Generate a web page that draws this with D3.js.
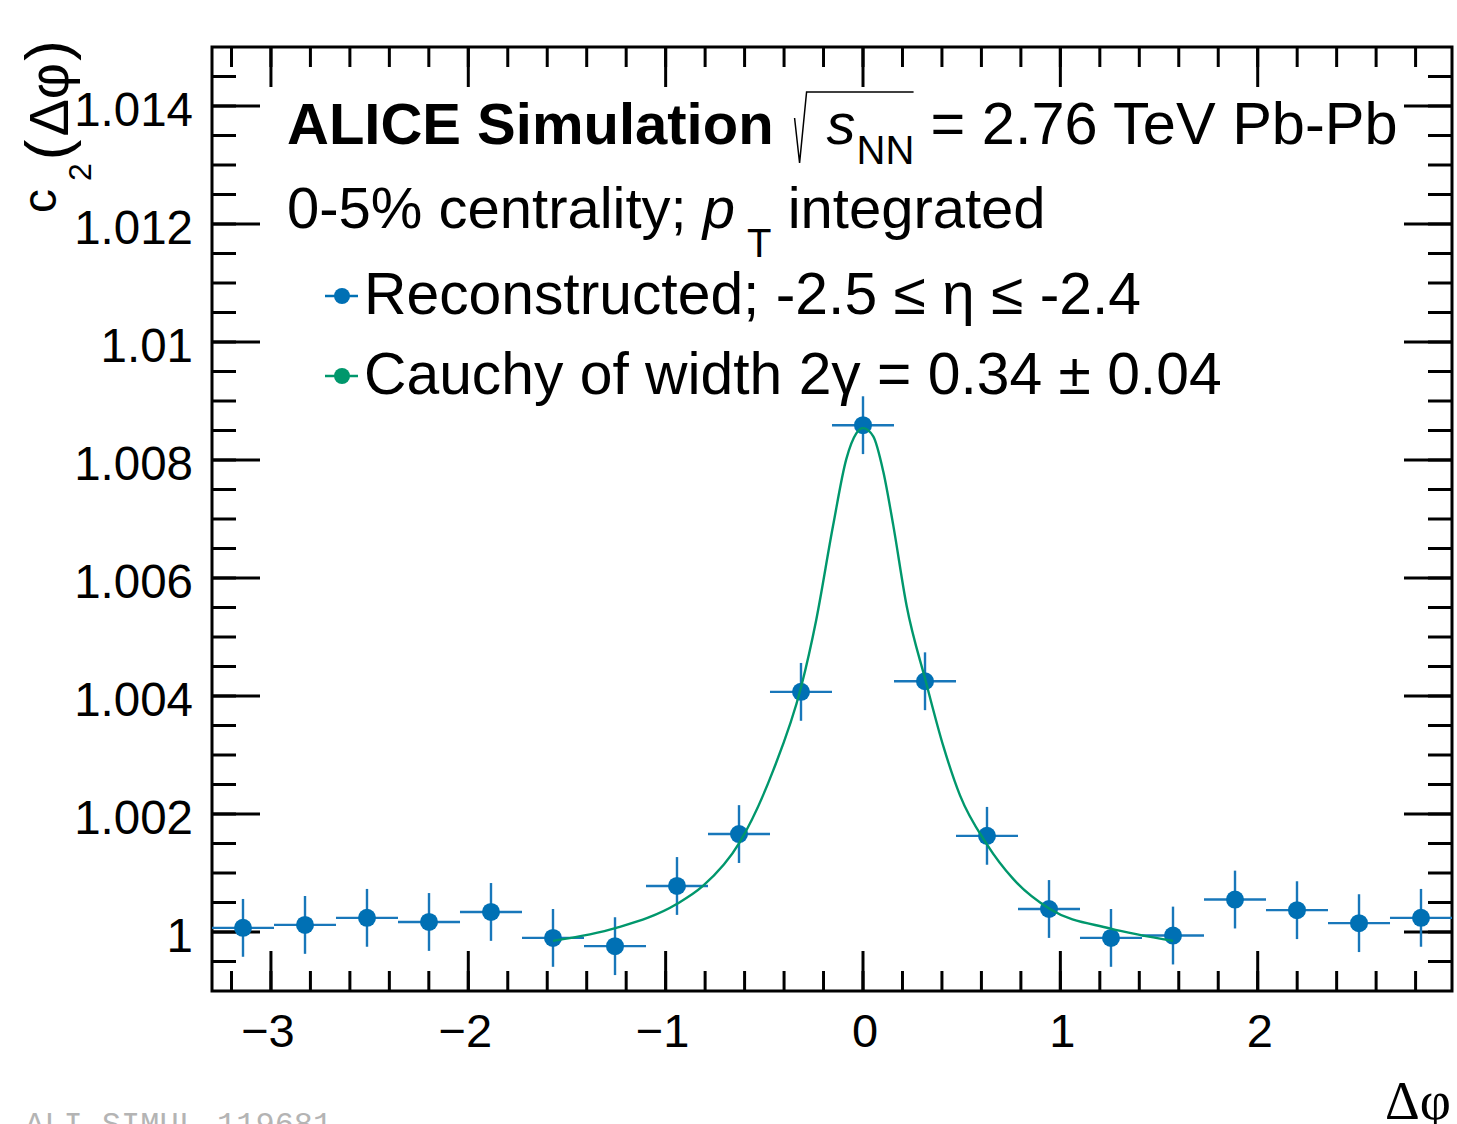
<!DOCTYPE html>
<html>

<head>
  <title>c2 vs delta phi</title>
  <script src="https://d3js.org/d3.v7.min.js"></script>
  <style>
    body {
      margin: 0;
      background: #ffffff;
    }

    svg text {
      font-family: "Liberation Sans", Arial, Helvetica, sans-serif;
    }
  </style>
</head>

<body>
  <svg id="chart"></svg>
  <script>
    // bin centres in delta phi
    const dphi = [-3.1416, -2.8274, -2.5133, -2.1991, -1.8850, -1.5708, -1.2566, -0.9425, -0.6283, -0.3142,
      0.0000, 0.3142, 0.6283, 0.9425, 1.2566, 1.5708, 1.8850, 2.1991, 2.5133, 2.8274]
    const c2 = [1.00007, 1.00012, 1.00024, 1.00017, 1.00034, 0.99990, 0.99976, 1.00078, 1.00166, 1.00407,
      1.00859, 1.00425, 1.00163, 1.00039, 0.99990, 0.99994, 1.00055, 1.00037, 1.00015, 1.00024]
    const c2Err = [0.00049, 0.00049, 0.00049, 0.00049, 0.00049, 0.00049, 0.00049, 0.00049, 0.00049, 0.00049,
      0.00049, 0.00049, 0.00049, 0.00049, 0.00049, 0.00049, 0.00049, 0.00049, 0.00049, 0.00049]
    const binHalfWidth = 0.1571

    // cauchy fit curve
    const fitX = [-1.5708, -1.250, -0.946, -0.811, -0.625, -0.456, -0.313, -0.237, -0.152, -0.085, -0.034, 0.000,
      0.052, 0.103, 0.153, 0.221, 0.318, 0.407, 0.491, 0.627, 0.761, 0.947, 1.251, 1.5708]
    const fitY = [0.99985, 1.00007, 1.00047, 1.00078, 1.00152, 1.00273, 1.00416, 1.00529, 1.00688, 1.00801, 1.00845, 1.00854,
      1.00840, 1.00780, 1.00690, 1.00553, 1.00425, 1.00315, 1.00232, 1.00149, 1.00090, 1.00039, 1.00006, 0.99985]

    const xTicks = [-3, -2, -1, 0, 1, 2]
    const xTickLabels = ["\u22123", "\u22122", "\u22121", "0", "1", "2"]
    const yTicks = [1.000, 1.002, 1.004, 1.006, 1.008, 1.010, 1.012, 1.014]
    const yTickLabels = ["1", "1.002", "1.004", "1.006", "1.008", "1.01", "1.012", "1.014"]

    const blue = "#0070b4"
    const barBlue = "#1877ba"
    const green = "#00976c"

    svgwidth = 1457
    svgheight = 1124
    svg = d3.select("#chart")
      .attr("width", svgwidth)
      .attr("height", svgheight)

    var frame = { left: 212, right: 1452, top: 47, bottom: 991 }

    var x = d3.scaleLinear()
      .domain([-1.05 * Math.PI, 0.95 * Math.PI])
      .range([frame.left, frame.right])

    var y = d3.scaleLinear()
      .domain([0.999, 1.015])
      .range([frame.bottom, frame.top])

    // ticks (ROOT style: on all four sides, pointing inwards)
    var xMinor = d3.range(-32, 30, 2).map(d => d / 10).filter(d => x(d) > frame.left && x(d) < frame.right)
    var yMinor = d3.range(9990, 10151, 5).map(d => d / 10000).filter(d => y(d) < frame.bottom && y(d) > frame.top)

    ticks = svg.append("g")
      .attr("stroke", "black")
      .attr("stroke-width", 3)

    ticks.selectAll(".xminb").data(xMinor).enter().append("line")
      .attr("x1", d => x(d)).attr("x2", d => x(d))
      .attr("y1", frame.bottom).attr("y2", frame.bottom - 20)
    ticks.selectAll(".xmint").data(xMinor).enter().append("line")
      .attr("x1", d => x(d)).attr("x2", d => x(d))
      .attr("y1", frame.top).attr("y2", frame.top + 20)
    ticks.selectAll(".xmajb").data(xTicks).enter().append("line")
      .attr("x1", d => x(d)).attr("x2", d => x(d))
      .attr("y1", frame.bottom).attr("y2", frame.bottom - 40)
    ticks.selectAll(".xmajt").data(xTicks).enter().append("line")
      .attr("x1", d => x(d)).attr("x2", d => x(d))
      .attr("y1", frame.top).attr("y2", frame.top + 40)

    ticks.selectAll(".yminl").data(yMinor).enter().append("line")
      .attr("x1", frame.left).attr("x2", frame.left + 24)
      .attr("y1", d => y(d)).attr("y2", d => y(d))
    ticks.selectAll(".yminr").data(yMinor).enter().append("line")
      .attr("x1", frame.right).attr("x2", frame.right - 24)
      .attr("y1", d => y(d)).attr("y2", d => y(d))
    ticks.selectAll(".ymajl").data(yTicks).enter().append("line")
      .attr("x1", frame.left).attr("x2", frame.left + 48)
      .attr("y1", d => y(d)).attr("y2", d => y(d))
    ticks.selectAll(".ymajr").data(yTicks).enter().append("line")
      .attr("x1", frame.right).attr("x2", frame.right - 48)
      .attr("y1", d => y(d)).attr("y2", d => y(d))

    svg.append("rect")
      .attr("x", frame.left)
      .attr("y", frame.top)
      .attr("width", frame.right - frame.left)
      .attr("height", frame.bottom - frame.top)
      .attr("fill", "none")
      .attr("stroke", "black")
      .attr("stroke-width", 3)

    // tick labels
    svg.selectAll(".xlab").data(xTicks).enter().append("text")
      .attr("x", d => x(d) + (d < 0 ? -3 : 2))
      .attr("y", frame.bottom + 56)
      .attr("text-anchor", "middle")
      .attr("font-size", 47)
      .text((d, i) => xTickLabels[i])

    svg.selectAll(".ylab").data(yTicks).enter().append("text")
      .attr("x", 193)
      .attr("y", d => y(d))
      .attr("dy", "0.43em")
      .attr("text-anchor", "end")
      .attr("font-size", 47.5)
      .text((d, i) => yTickLabels[i])

    // axis titles
    svg.append("text")
      .attr("x", 1451)
      .attr("y", 1119)
      .attr("text-anchor", "end")
      .attr("font-size", 54)
      .style("font-family", "'Liberation Serif', 'Times New Roman', serif")
      .text("\u0394\u03c6")

    ytitle = svg.append("text")
      .attr("transform", "translate(68,213) rotate(-90)")
      .attr("text-anchor", "start")
    ytitle.append("tspan").attr("font-size", 48).attr("dy", -12).text("c")
    ytitle.append("tspan").attr("font-size", 32).attr("dy", 35).attr("dx", 8).text("2")
    ytitle.append("tspan").attr("font-size", 62).attr("dy", -23).attr("dx", 3).text("(")
    ytitle.append("tspan").attr("font-size", 56).attr("dx", 3).text("\u0394\u03c6")
    ytitle.append("tspan").attr("font-size", 62).attr("dx", 2).text(")")

    // data: error bars, markers, fit
    var points = dphi.map((d, i) => ({ x: d, y: c2[i], e: c2Err[i] }))

    bars = svg.append("g")
      .attr("stroke", barBlue)
      .attr("stroke-width", 2.4)
    bars.selectAll(".ex").data(points).enter().append("line")
      .attr("x1", d => Math.max(frame.left, x(d.x - binHalfWidth)))
      .attr("x2", d => Math.min(frame.right, x(d.x + binHalfWidth)))
      .attr("y1", d => y(d.y)).attr("y2", d => y(d.y))
    bars.selectAll(".ey").data(points).enter().append("line")
      .attr("x1", d => x(d.x)).attr("x2", d => x(d.x))
      .attr("y1", d => y(d.y - d.e)).attr("y2", d => y(d.y + d.e))

    svg.selectAll(".pt").data(points).enter().append("circle")
      .attr("cx", d => x(d.x))
      .attr("cy", d => y(d.y))
      .attr("r", 9)
      .attr("fill", blue)

    var fitLine = d3.line()
      .x((d, i) => x(fitX[i]))
      .y((d, i) => y(fitY[i]))
      .curve(d3.curveMonotoneX)

    svg.append("path")
      .attr("d", fitLine(fitX))
      .attr("fill", "none")
      .attr("stroke", green)
      .attr("stroke-width", 2.4)

    // header text
    header = svg.append("g")
    title = header.append("text")
      .attr("x", 287)
      .attr("y", 144)
      .attr("font-size", 58)
      .attr("font-weight", "bold")
      .text("ALICE Simulation")
    sx = 287 + title.node().getComputedTextLength() + 22

    header.append("path")
      .attr("d", `M${sx - 1},118 L${sx + 4},163 L${sx + 11},92 L${sx + 118},92`)
      .attr("fill", "none")
      .attr("stroke", "black")
      .attr("stroke-width", 1.5)
    header.append("text")
      .attr("x", sx + 31)
      .attr("y", 144)
      .attr("font-size", 58)
      .attr("font-style", "italic")
      .text("s")
    header.append("text")
      .attr("x", sx + 61)
      .attr("y", 164)
      .attr("font-size", 40)
      .text("NN")
    header.append("text")
      .attr("x", sx + 135)
      .attr("y", 144)
      .attr("font-size", 59.5)
      .text("= 2.76 TeV Pb-Pb")

    line2 = header.append("text")
      .attr("x", 287)
      .attr("y", 228)
      .attr("font-size", 58)
    line2.append("tspan").text("0-5% centrality; ")
    line2.append("tspan").attr("font-style", "italic").text("p")
    line2.append("tspan").attr("font-size", 40).attr("dx", 12).attr("dy", 29).text("T")
    line2.append("tspan").attr("dy", -29).text(" integrated")

    // legend
    var legendItems = [
      { label: "Reconstructed; -2.5 \u2264 \u03b7 \u2264 -2.4", color: blue, y: 296 },
      { label: "Cauchy of width 2\u03b3 = 0.34 \u00b1 0.04", color: green, y: 376 }
    ]
    legend = svg.append("g")
    items = legend.selectAll("g").data(legendItems).enter().append("g")
    items.append("line")
      .attr("x1", 325).attr("x2", 358)
      .attr("y1", d => d.y).attr("y2", d => d.y)
      .attr("stroke", d => d.color)
      .attr("stroke-width", 2.4)
    items.append("circle")
      .attr("cx", 342)
      .attr("cy", d => d.y)
      .attr("r", 8)
      .attr("fill", d => d.color)
    items.append("text")
      .attr("x", 364)
      .attr("y", d => d.y + 18)
      .attr("font-size", 58.8)
      .text(d => d.label)

    // figure id watermark, cut off at the bottom edge
    svg.append("text")
      .attr("x", 25)
      .attr("y", 1134)
      .attr("font-size", 32)
      .attr("fill", "#b4b4b4")
      .style("font-family", "'Liberation Mono', 'Courier New', monospace")
      .text("ALI-SIMUL-119681")
  </script>
</body>

</html>
